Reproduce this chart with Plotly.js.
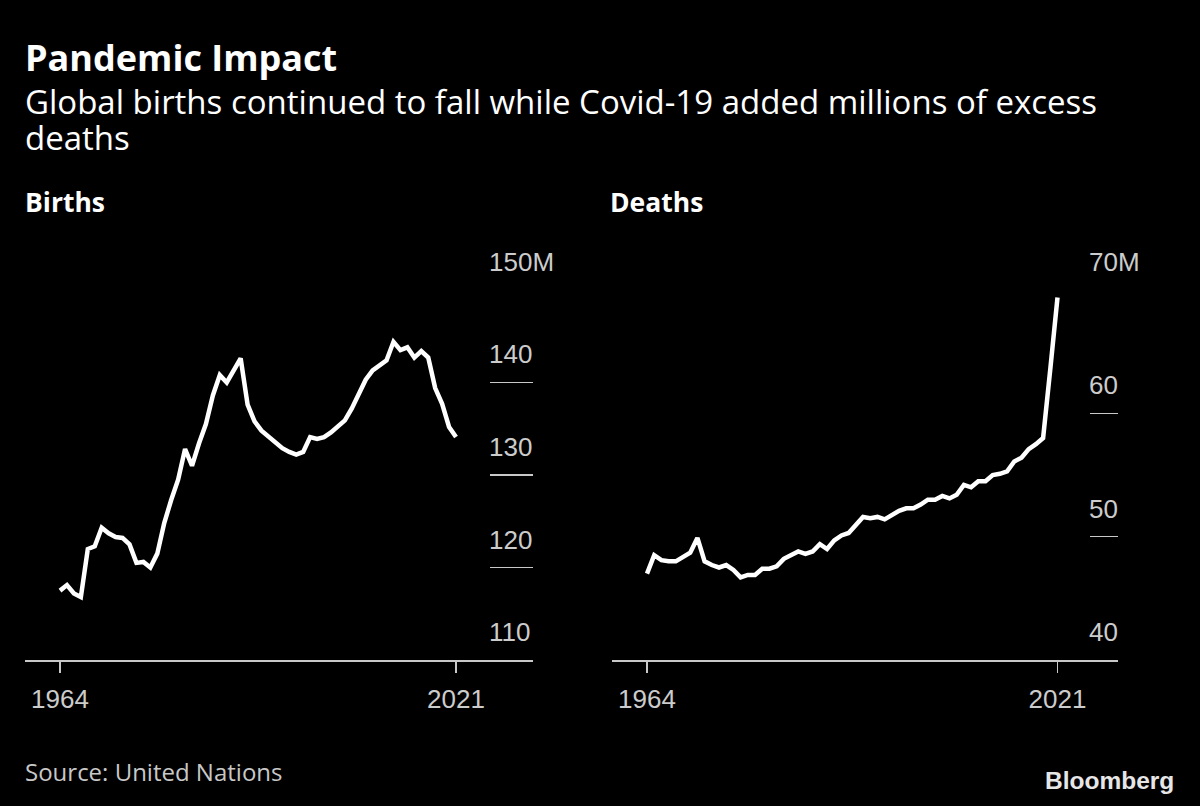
<!DOCTYPE html>
<html>
<head>
<meta charset="utf-8">
<script src="https://cdn.plot.ly/plotly-3.0.1.min.js"></script>
<style>html,body{margin:0;padding:0;background:#000;}#chart{width:1200px;height:806px;}</style>
</head>
<body>
<div id="chart"></div>
<script>
const years = [1964,1965,1966,1967,1968,1969,1970,1971,1972,1973,1974,1975,1976,1977,1978,1979,
  1980,1981,1982,1983,1984,1985,1986,1987,1988,1989,1990,1991,1992,1993,1994,1995,1996,1997,1998,1999,
  2000,2001,2002,2003,2004,2005,2006,2007,2008,2009,2010,2011,2012,2013,2014,2015,2016,2017,2018,2019,2020,2021];

// Births, millions
const births = [117.5,118.1,117.2,116.8,122.0,122.3,124.3,123.7,123.3,123.2,122.5,120.5,120.6,120.0,121.5,124.8,
  127.3,129.5,132.8,131.0,133.4,135.5,138.6,140.8,140.0,141.3,142.6,137.6,135.8,134.8,134.2,133.5,132.9,132.5,132.2,132.5,
  134.1,133.9,134.1,134.6,135.3,135.9,137.2,138.8,140.3,141.3,141.8,142.4,144.4,143.5,143.8,142.7,143.4,142.7,139.4,137.7,135.2,134.1];

// Deaths, millions
const deaths = [47.0,48.5,48.1,48.0,48.0,48.3,48.7,49.9,48.0,47.7,47.5,47.7,47.3,46.7,46.9,46.9,
  47.4,47.4,47.6,48.2,48.5,48.8,48.6,48.8,49.4,49.0,49.7,50.1,50.3,51.0,51.6,51.5,51.6,51.4,51.8,52.1,
  52.3,52.3,52.6,53.0,53.0,53.3,53.1,53.4,54.2,54.0,54.5,54.5,55.0,55.1,55.3,56.1,56.4,57.1,57.5,58.0,63.6,69.4];

const xTickVals = [1964, 2021];
const xTickText = ['1964', '2021'];
const birthTicks = [110, 120, 130, 140, 150];
const birthTickText = ['110', '120', '130', '140', '150M'];
const deathTicks = [40, 50, 60, 70];
const deathTickText = ['40', '50', '60', '70M'];

const titleText = 'Pandemic Impact';
const subtitleLines = ['Global births continued to fall while Covid-19 added millions of excess', 'deaths'];
const panelTitles = ['Births', 'Deaths'];
const sourceText = 'Source: United Nations';
const brandText = 'Bloomberg';

const W = 1200, H = 806;
const px = x => x / W;
const py = y => 1 - y / H;

const FONT = 'Open Sans, Noto Sans, sans-serif';
const TICKFONT = {family: 'Liberation Sans, Arial, sans-serif', size: 26, color: '#cccccc'};

const traces = [
  {x: years, y: births, xaxis: 'x', yaxis: 'y', type: 'scatter', mode: 'lines',
   line: {color: '#ffffff', width: 4.5, shape: 'linear'}, hoverinfo: 'skip', cliponaxis: false},
  {x: years, y: deaths, xaxis: 'x2', yaxis: 'y2', type: 'scatter', mode: 'lines',
   line: {color: '#ffffff', width: 4.5, shape: 'linear'}, hoverinfo: 'skip', cliponaxis: false}
];

const yDomain = [py(660), py(290)];

const xCommon = {
  showgrid: false, zeroline: false, showline: true, linecolor: '#c8c8c8', linewidth: 1.5,
  ticks: 'outside', ticklen: 11, tickwidth: 1.5, tickcolor: '#c8c8c8', ticklabelstandoff: 4,
  tickvals: xTickVals, ticktext: xTickText, tickfont: TICKFONT, fixedrange: true
};
const yCommon = {
  showgrid: false, zeroline: false, showline: false, side: 'right',
  ticks: 'inside', tickwidth: 1.5, tickcolor: '#c8c8c8', showticklabels: false, fixedrange: true
};

const annotations = [];
function txt(x, y, text, size, color, bold, xanchor, family) {
  annotations.push({xref: 'paper', yref: 'paper', x: x, y: y, text: bold ? '<b>' + text + '</b>' : text,
    showarrow: false, xanchor: xanchor || 'left', yanchor: 'middle', align: 'left', valign: 'middle',
    borderpad: 0, font: {family: family || FONT, size: size, color: color}});
}
txt(px(24), py(57), titleText, 36, '#ffffff', true);
// subtitle as one block: base size 28 gives ~36px line spacing, glyphs drawn at 33px
const subText = subtitleLines.map(s => '<span style="font-size:33px">' + s + '</span>').join('<br>');
txt(px(24), py(119), subText, 28, '#ffffff', false);
txt(px(24), py(202), panelTitles[0], 26.5, '#ffffff', true);
txt(px(609), py(202), panelTitles[1], 26.5, '#ffffff', true);
txt(px(24), py(771), sourceText, 24, '#c8c8c8', false);
txt(px(1175), py(780), brandText, 24.5, '#e6e6e6', true, 'right', 'Liberation Sans, Arial, sans-serif');

birthTicks.forEach((v, i) => {
  annotations.push({xref: 'x domain', yref: 'y', x: (487 - 25) / 508, y: v, text: birthTickText[i],
    showarrow: false, xanchor: 'left', yanchor: 'bottom', yshift: 11, font: TICKFONT});
});
deathTicks.forEach((v, i) => {
  annotations.push({xref: 'x2 domain', yref: 'y2', x: (1087 - 612) / 506, y: v, text: deathTickText[i],
    showarrow: false, xanchor: 'left', yanchor: 'bottom', yshift: 11, font: TICKFONT});
});

const layout = {
  width: W, height: H,
  paper_bgcolor: '#000000', plot_bgcolor: '#000000',
  margin: {l: 0, r: 0, t: 0, b: 0, pad: 0},
  showlegend: false,
  font: {family: FONT, color: '#ffffff'},
  xaxis: Object.assign({}, xCommon, {domain: [px(25), px(533)], range: [1958.96, 2032.08], anchor: 'y'}),
  yaxis: Object.assign({}, yCommon, {domain: yDomain, range: [110, 150], anchor: 'x', ticklen: 43, tickvals: birthTicks}),
  xaxis2: Object.assign({}, xCommon, {domain: [px(612), px(1118)], range: [1959.14, 2029.4], anchor: 'y2'}),
  yaxis2: Object.assign({}, yCommon, {domain: yDomain, range: [40, 70], anchor: 'x2', ticklen: 28, tickvals: deathTicks}),
  annotations: annotations
};

Plotly.newPlot('chart', traces, layout, {displayModeBar: false, staticPlot: true});
</script>
</body>
</html>
